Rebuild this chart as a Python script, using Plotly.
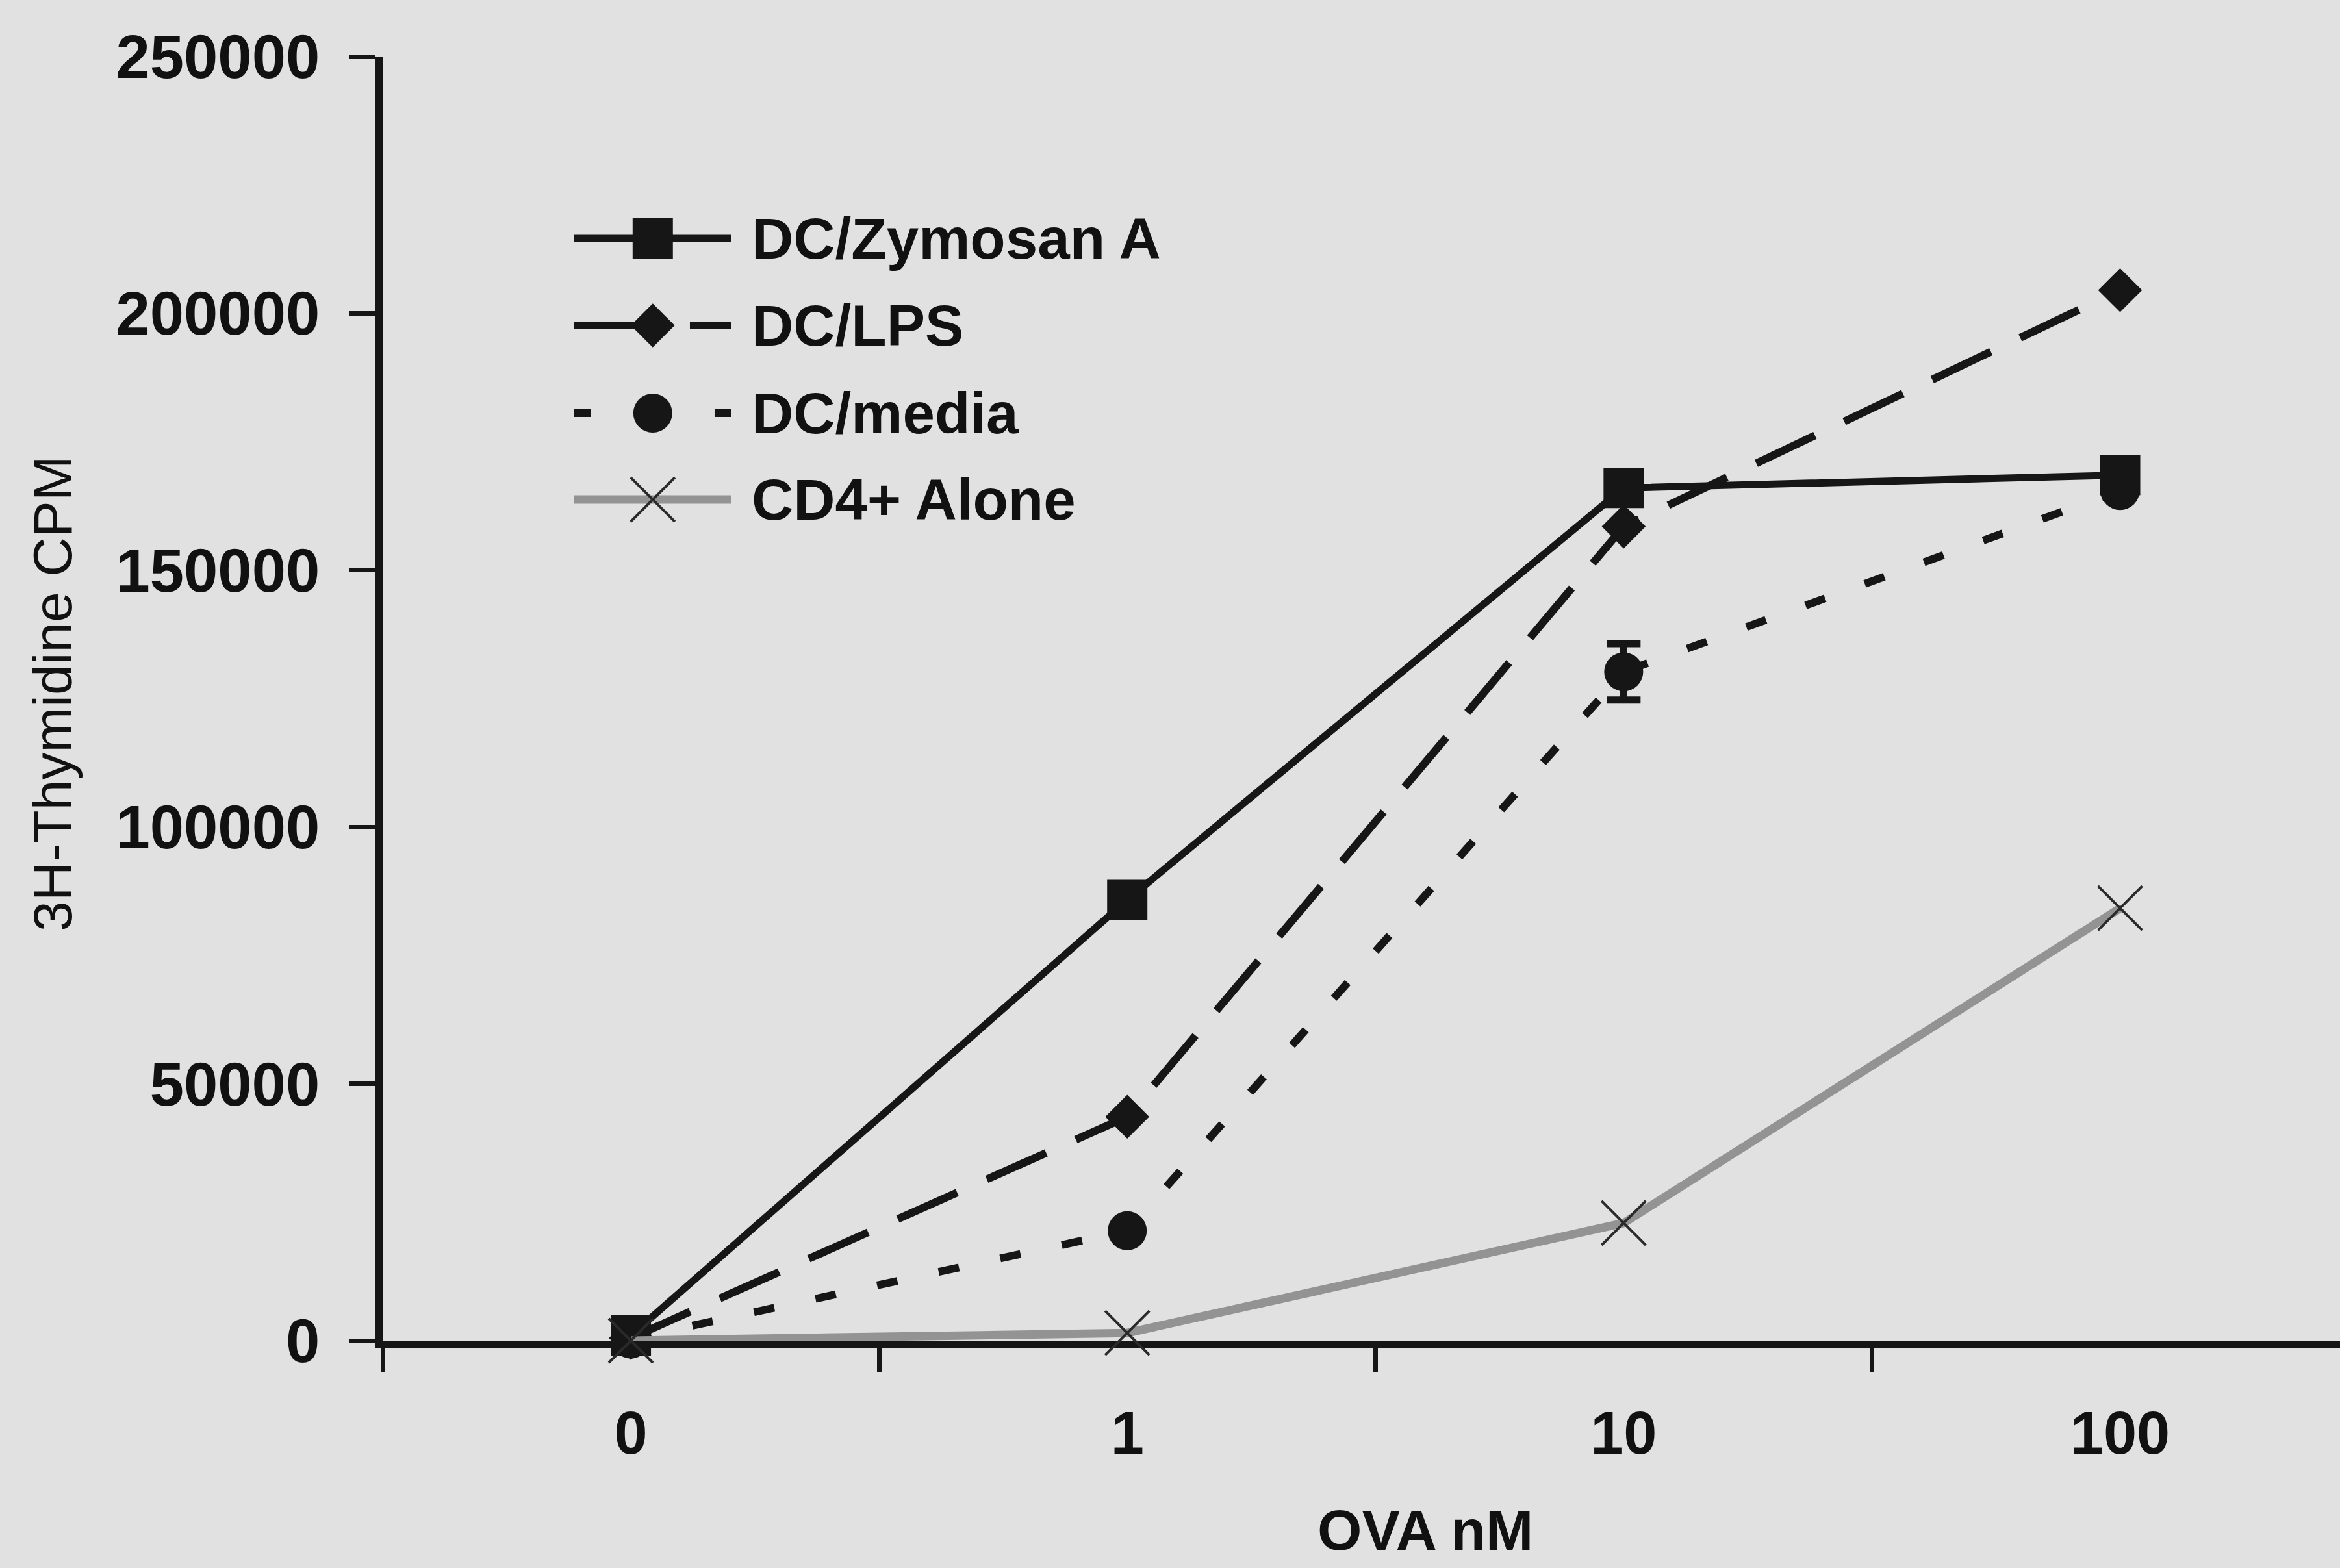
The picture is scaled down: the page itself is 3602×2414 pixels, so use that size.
import plotly.graph_objects as go

# OVA concentration categories (nM) and proliferation readout (3H-thymidine CPM)
ova_nm = ["0", "1", "10", "100"]
dc_zymosan = [1000, 85800, 166000, 168500]
dc_lps = [500, 43600, 158500, 204500]
dc_media = [300, 21400, 130200, 165500]
dc_media_err = [0, 0, 5500, 0]
cd4_alone = [0, 1500, 22900, 84200]

y_ticks = [0, 50000, 100000, 150000, 200000, 250000]

series_names = ["DC/Zymosan A", "DC/LPS", "DC/media", "CD4+ Alone"]

INK = "#161616"
GREY_LINE = "#939393"
BG = "#e1e1e1"
FONT = "Liberation Sans, Arial, Helvetica, sans-serif"

styles = {
    "DC/Zymosan A": dict(line=dict(color=INK, width=11),
                         marker=dict(symbol="square", size=62, color=INK)),
    "DC/LPS": dict(line=dict(color=INK, width=12, dash="100px,50px"),
                   marker=dict(symbol="diamond", size=52, color=INK)),
    "DC/media": dict(line=dict(color=INK, width=12, dash="32px,65px"),
                     marker=dict(symbol="circle", size=60, color=INK)),
    "CD4+ Alone": dict(line=dict(color=GREY_LINE, width=13),
                       marker=dict(symbol="x-thin", size=68, color="#2a2a2a",
                                   line=dict(color="#2a2a2a", width=4))),
}

# legend samples are short, so the dash phase is set to leave a gap after the marker
legend_dash = {
    "DC/LPS": "92px,86px",
    "DC/media": "26px,190px",
}

values = {
    "DC/Zymosan A": dc_zymosan,
    "DC/LPS": dc_lps,
    "DC/media": dc_media,
    "CD4+ Alone": cd4_alone,
}

fig = go.Figure()

for name in series_names:
    kw = dict(
        x=ova_nm, y=values[name], name=name, mode="lines+markers",
        cliponaxis=False, showlegend=False, **styles[name],
    )
    if name == "DC/media":
        kw["error_y"] = dict(type="data", array=dc_media_err, visible=True,
                             color=INK, thickness=11, width=26)
    fig.add_trace(go.Scatter(**kw))

# Hand-built legend on a hidden overlay subplot (long line samples)
leg_x0, leg_x1, leg_xm, leg_text_x = 0.0979, 0.1782, 0.1380, 0.1879
leg_rows = [0.8584, 0.7906, 0.7223, 0.6550]

for name, ly in zip(series_names, leg_rows):
    st = styles[name]
    line = dict(st["line"])
    if name in legend_dash:
        line["dash"] = legend_dash[name]
    fig.add_trace(go.Scatter(
        x=[leg_x0, leg_x1], y=[ly, ly], mode="lines", line=line,
        xaxis="x2", yaxis="y2", showlegend=False, hoverinfo="skip",
        cliponaxis=False,
    ))
    fig.add_trace(go.Scatter(
        x=[leg_xm], y=[ly], mode="markers", marker=st["marker"],
        xaxis="x2", yaxis="y2", showlegend=False, hoverinfo="skip",
        cliponaxis=False,
    ))
    fig.add_annotation(
        x=leg_text_x, y=ly, xref="x2", yref="y2", text=name, showarrow=False,
        xanchor="left", yanchor="middle",
        font=dict(family=FONT, size=89, color="#111111", weight="bold"),
    )

# Axis titles
fig.add_annotation(
    x=0.5327, y=-0.1475, xref="paper", yref="paper", text="OVA nM",
    showarrow=False, xanchor="center", yanchor="middle",
    font=dict(family=FONT, size=88, color="#111111", weight="bold"),
)
fig.add_annotation(
    x=-0.1686, y=0.5038, xref="paper", yref="paper", text="3H-Thymidine CPM",
    showarrow=False, xanchor="center", yanchor="middle", textangle=-90,
    font=dict(family=FONT, size=84, color="#111111"),
)

fig.update_layout(
    width=3602, height=2414, autosize=False,
    margin=dict(l=589, r=0, t=87, b=350, pad=0),
    paper_bgcolor=BG, plot_bgcolor="rgba(0,0,0,0)",
    font=dict(family=FONT, color="#111111"),
    showlegend=False,
    xaxis=dict(
        type="category", categoryorder="array", categoryarray=ova_nm,
        range=[-0.5, 3.443], tickson="boundaries", ticks="outside",
        ticklen=36, tickwidth=7, tickcolor=INK,
        showline=True, linecolor=INK, linewidth=12, mirror=False,
        showgrid=False, zeroline=False, layer="below traces",
        tickfont=dict(family=FONT, size=92, color="#111111", weight="bold"),
        ticklabelstandoff=52, fixedrange=True,
    ),
    yaxis=dict(
        range=[0, 250000], tickmode="array", tickvals=y_ticks,
        ticktext=[str(v) for v in y_ticks],
        ticks="outside", ticklen=40, tickwidth=7, tickcolor=INK,
        showline=True, linecolor=INK, linewidth=12,
        showgrid=False, zeroline=False, layer="below traces",
        tickfont=dict(family=FONT, size=94, color="#111111", weight="bold"),
        ticklabelstandoff=26, fixedrange=True,
    ),
    xaxis2=dict(domain=[0, 1], range=[0, 1], visible=False, anchor="y2",
                fixedrange=True),
    yaxis2=dict(domain=[0, 1], range=[0, 1], visible=False, anchor="x2",
                fixedrange=True),
)

fig.write_html("out.html")
